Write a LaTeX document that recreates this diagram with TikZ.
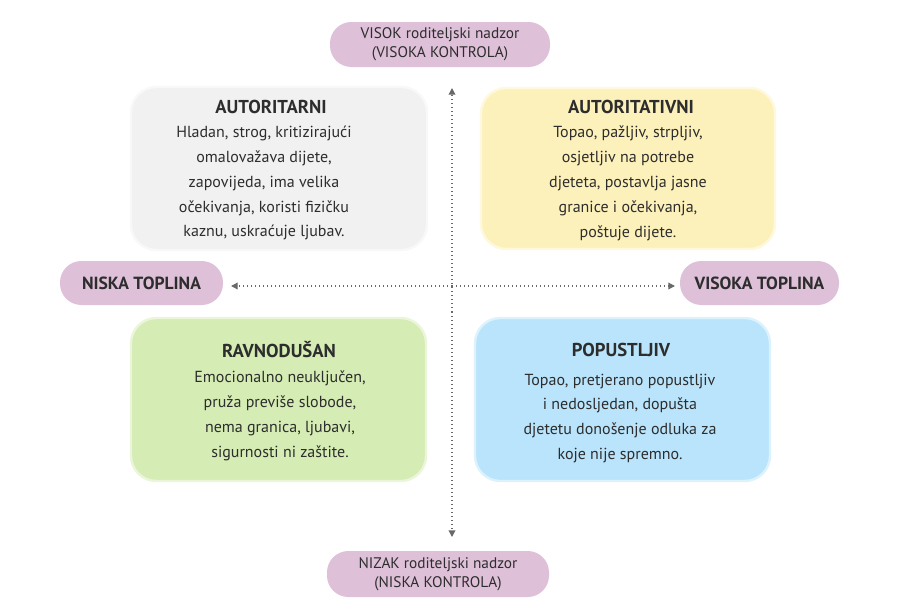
\documentclass[tikz,border=0pt]{standalone}
\usepackage{fontspec}
\setmainfont{PT Sans}
\usetikzlibrary{arrows.meta}
\definecolor{pill}{RGB}{222,192,216}
\definecolor{graybox}{RGB}{241,241,241}
\definecolor{yellowbox}{RGB}{253,241,187}
\definecolor{greenbox}{RGB}{213,236,180}
\definecolor{bluebox}{RGB}{185,228,251}
\definecolor{txt}{RGB}{45,45,45}
\definecolor{axis}{RGB}{105,105,105}
\tikzset{
  pillnode/.style={rectangle, rounded corners=16pt, fill=pill, inner sep=0pt, align=center, text=txt,
     font=\fontsize{11.5}{14.5}\selectfont},
  pillbold/.style={pillnode, font=\bfseries\fontsize{13.2}{15}\selectfont},
  quad/.style={rectangle, rounded corners=19pt, line width=1.8pt, inner sep=0pt},
  qtitle/.style={text=txt, font=\bfseries\fontsize{14}{16}\selectfont},
  qbody/.style={text=txt, align=center, font=\fontsize{12}{18.7}\selectfont},
  axisline/.style={axis, line width=1pt, dotted, -{Triangle[length=5pt,width=5pt]}}
}
\begin{document}
\begin{tikzpicture}[x=0.75pt,y=-0.75pt]
\useasboundingbox (0,0) rectangle (913,615);
% quadrant boxes
\node[quad, fill=graybox, draw=graybox!50!white, minimum width=296*0.75pt, minimum height=163*0.75pt] (ga) at (279,168.5) {};
\node[quad, fill=yellowbox, draw=yellowbox!50!white, minimum width=294*0.75pt, minimum height=161*0.75pt] (yb) at (628,168.5) {};
\node[quad, fill=greenbox, draw=greenbox!50!white, minimum width=295*0.75pt, minimum height=163*0.75pt] (gc) at (278.5,399.5) {};
\node[quad, fill=bluebox, draw=bluebox!50!white, minimum width=295*0.75pt, minimum height=163*0.75pt] (bd) at (622.5,399.5) {};
% titles
\node[qtitle] (t1) at (271,107) {AUTORITARNI};
\node[qtitle] (t2) at (631,107) {AUTORITATIVNI};
\node[qtitle] (t3) at (279,350) {RAVNODUŠAN};
\node[qtitle] (t4) at (621,350) {POPUSTLJIV};
% bodies
\node[qbody, anchor=north] (b1) at (264,121) {Hladan, strog, kritizirajući\\omalovažava dijete,\\zapovijeda, ima velika\\očekivanja, koristi fizičku\\kaznu, uskraćuje ljubav.};
\node[qbody, anchor=north] (b2) at (628,121) {Topao, pažljiv, strpljiv,\\osjetljiv na potrebe\\djeteta, postavlja jasne\\granice i očekivanja,\\poštuje dijete.};
\node[qbody, anchor=north] (b3) at (280,366) {Emocionalno neuključen,\\pruža previše slobode,\\nema granica, ljubavi,\\sigurnosti ni zaštite.};
\node[qbody, anchor=north] (b4) at (620,369) {Topao, pretjerano popustljiv\\i nedosljedan, dopušta\\djetetu donošenje odluka za\\koje nije spremno.};
% pills
\node[pillnode, minimum width=220*0.75pt, minimum height=45*0.75pt] (top) at (440,44.5) {VISOK roditeljski nadzor\\(VISOKA KONTROLA)};
\node[pillnode, minimum width=222*0.75pt, minimum height=46*0.75pt] (bot) at (438,574) {NIZAK roditeljski nadzor\\(NISKA KONTROLA)};
\node[pillbold, minimum width=163*0.75pt, minimum height=44*0.75pt] (left) at (141.5,283) {NISKA TOPLINA};
\node[pillbold, minimum width=159*0.75pt, minimum height=44*0.75pt] (right) at (759.5,283) {VISOKA TOPLINA};
% axes
\coordinate (vtop) at (452,88);
\coordinate (vbot) at (452,537);
\coordinate (hl) at (231,286);
\coordinate (hr) at (675,286);
\coordinate (vmid) at (452,312);
\draw[axisline] (vmid) -- (vtop);
\draw[axisline] (vmid) -- (vbot);
\coordinate (hmid) at (452,286);
\draw[axisline] (hmid) -- (hl);
\draw[axisline] (hmid) -- (hr);
\end{tikzpicture}
\end{document}
